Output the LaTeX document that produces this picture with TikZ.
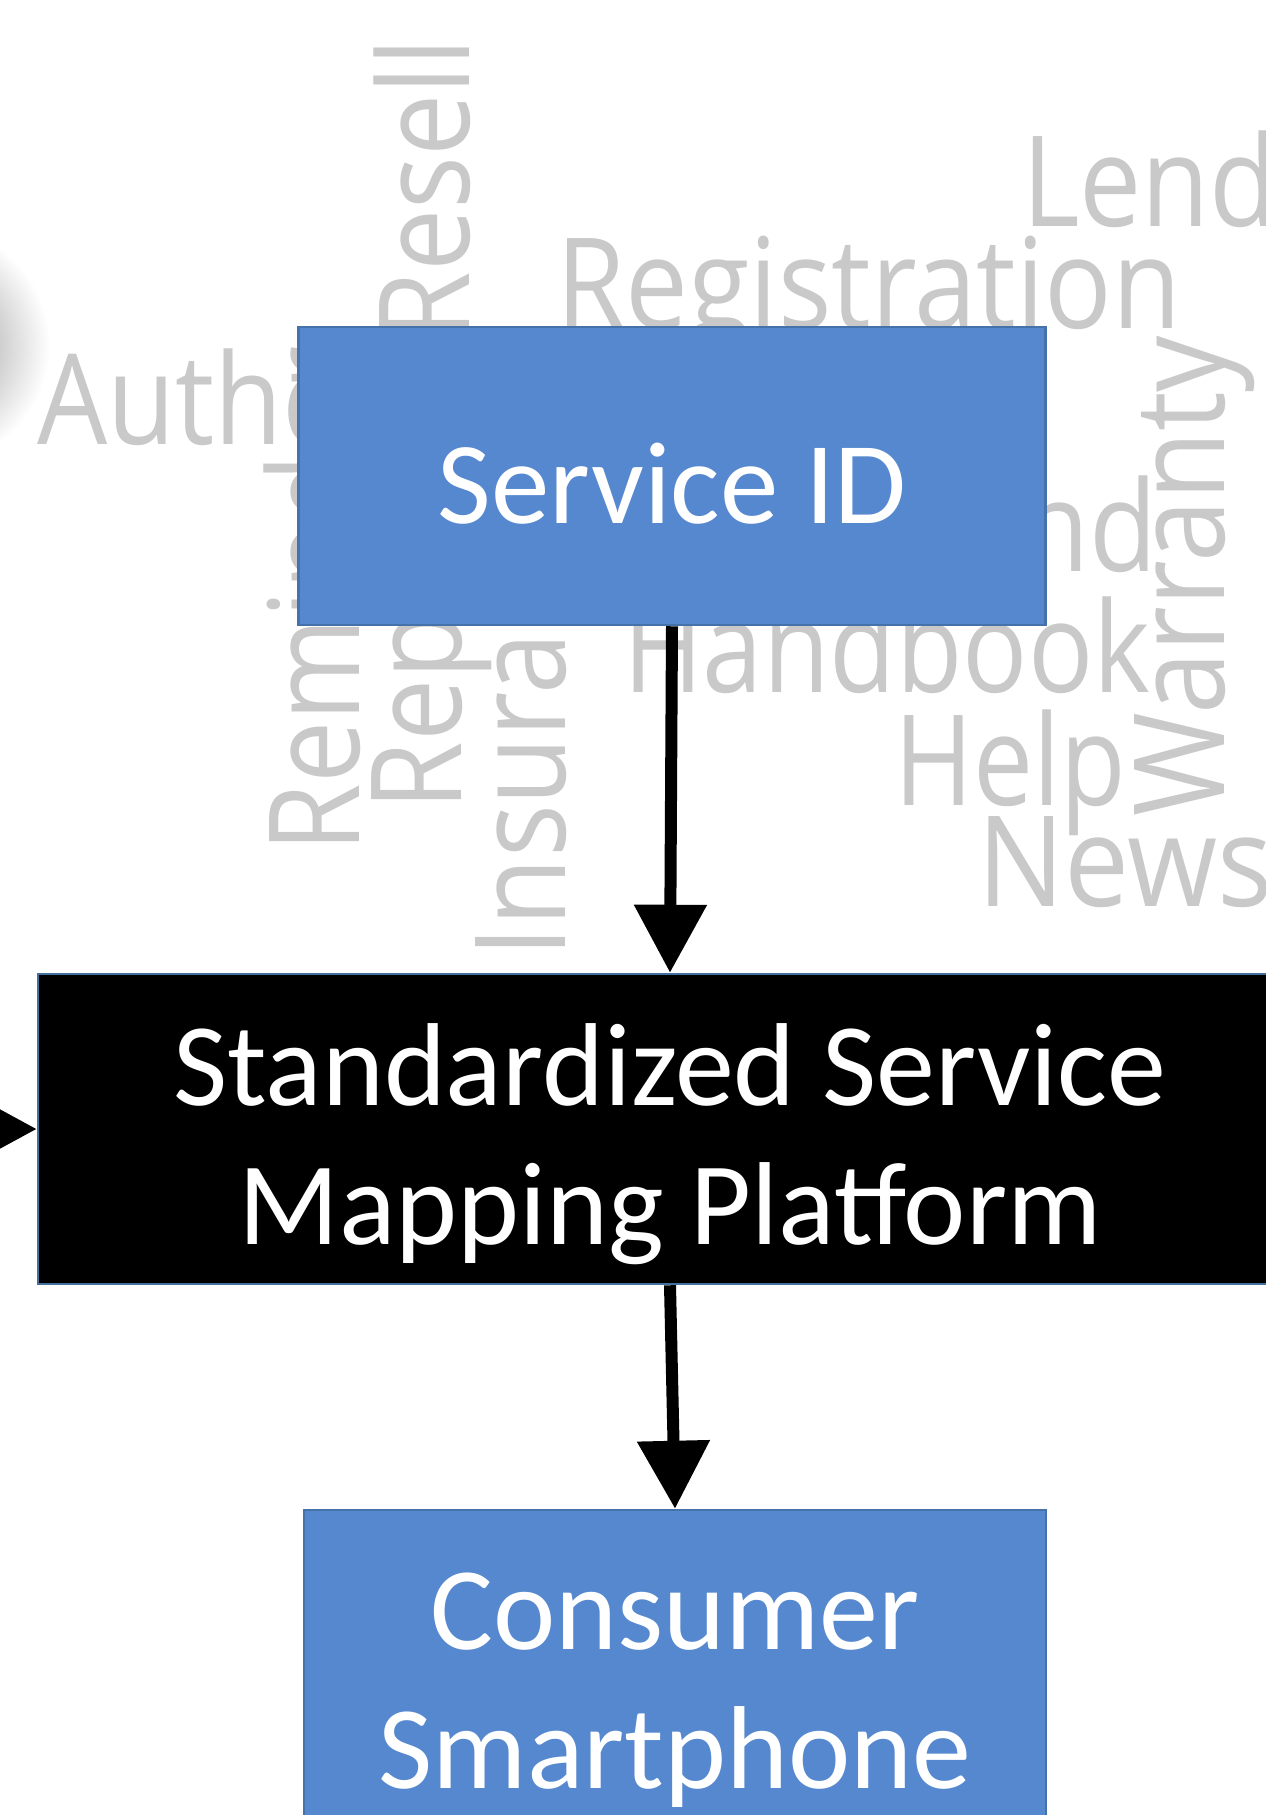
\documentclass[tikz,border=0pt]{standalone}
\usepackage{fontspec}
\setmainfont{Carlito}
\newfontfamily\cloudfont{Open Sans}
\usetikzlibrary{arrows.meta,positioning,calc}
\definecolor{boxblue}{RGB}{86,136,207}
\definecolor{edgeblue}{RGB}{70,114,170}
\definecolor{platedge}{RGB}{65,113,156}
\definecolor{cloudgray}{RGB}{201,201,201}
\tikzset{
  sbox/.style={draw=edgeblue, line width=2.5pt, fill=boxblue, inner sep=0pt},
  pbox/.style={draw=platedge, line width=2.5pt, fill=black, inner sep=0pt},
  btext/.style={text=white, font=\fontsize{118}{139}\selectfont, inner sep=0pt, anchor=base},
  cword/.style={text=cloudgray, inner sep=0pt, outer sep=0pt, anchor=base west},
  flowarrow/.style={-{Triangle[length=68pt,width=70pt]}, line width=12pt}
}
\newcommand{\cloudword}[2]{{\cloudfont\fontsize{126}{150}\selectfont\scalebox{#1}[1]{#2}}}

\begin{document}
\begin{tikzpicture}[x=1pt,y=-1pt]
\useasboundingbox (0,0) rectangle (1266,1815);
\clip (0,0) rectangle (1266,1815);

% soft shadow at the left edge
\shade[inner color=black!45, outer color=white] (-70,345) circle (120pt);

% word cloud behind the boxes
\node[cword] (wauth) at (37,444) {\cloudword{0.88}{Authentication}};
\node[cword] (wreg) at (556,328) {\cloudword{0.89}{Registration}};
\node[cword] (wlend) at (1022,226) {\cloudword{0.88}{Lend}};
\node[cword] (wrefund) at (785,571) {\cloudword{0.88}{Refund}};
\node[cword] (whand) at (623,692) {\cloudword{0.86}{Handbook}};
\node[cword] (whelp) at (894,805) {\cloudword{0.85}{Help}};
\node[cword] (wnews) at (977,906) {\cloudword{0.92}{News}};
\node[cword, rotate=90] (wresell) at (469,340) {\cloudword{0.88}{Resell}};
\node[cword, rotate=90] (wremind) at (359,852) {\cloudword{0.88}{Reminder}};
\node[cword, rotate=90] (wrepair) at (461,810) {\cloudword{0.88}{Repair}};
\node[cword, rotate=90] (wins) at (565,957) {\cloudword{0.88}{Insurance}};
\node[cword, rotate=90] (wwarr) at (1224,816) {\cloudword{0.89}{Warranty}};

% boxes
\node[sbox, minimum width=747pt, minimum height=298pt] (sid) at (672,476) {};
\node[btext, font=\fontsize{117}{139}\selectfont] (sidlabel) at ($(sid.center)+(0,47)$) {Service ID};

\node[pbox, minimum width=1264pt, minimum height=310pt] (smp) at (670,1129) {};
\node[btext] (smpline1) at ($(smp.center)+(0,-24)$) {Standardized Service};
\node[btext] (smpline2) at ($(smp.center)+(0,115)$) {Mapping Platform};

\node[sbox, minimum width=742pt, minimum height=380pt] (csp) at (675,1700) {};
\node[btext] (cspline1) at ($(csp.center)+(0,-51)$) {Consumer};
\node[btext] (cspline2) at ($(csp.center)+(0,88)$) {Smartphone};

% connectors
\coordinate (feedin) at (-150,1129);
\draw[flowarrow] (sid.south) -- (smp.north);
\draw[flowarrow] (smp.south) -- (csp.north);
\draw[flowarrow] (feedin) -- (smp.west);
\end{tikzpicture}
\end{document}
